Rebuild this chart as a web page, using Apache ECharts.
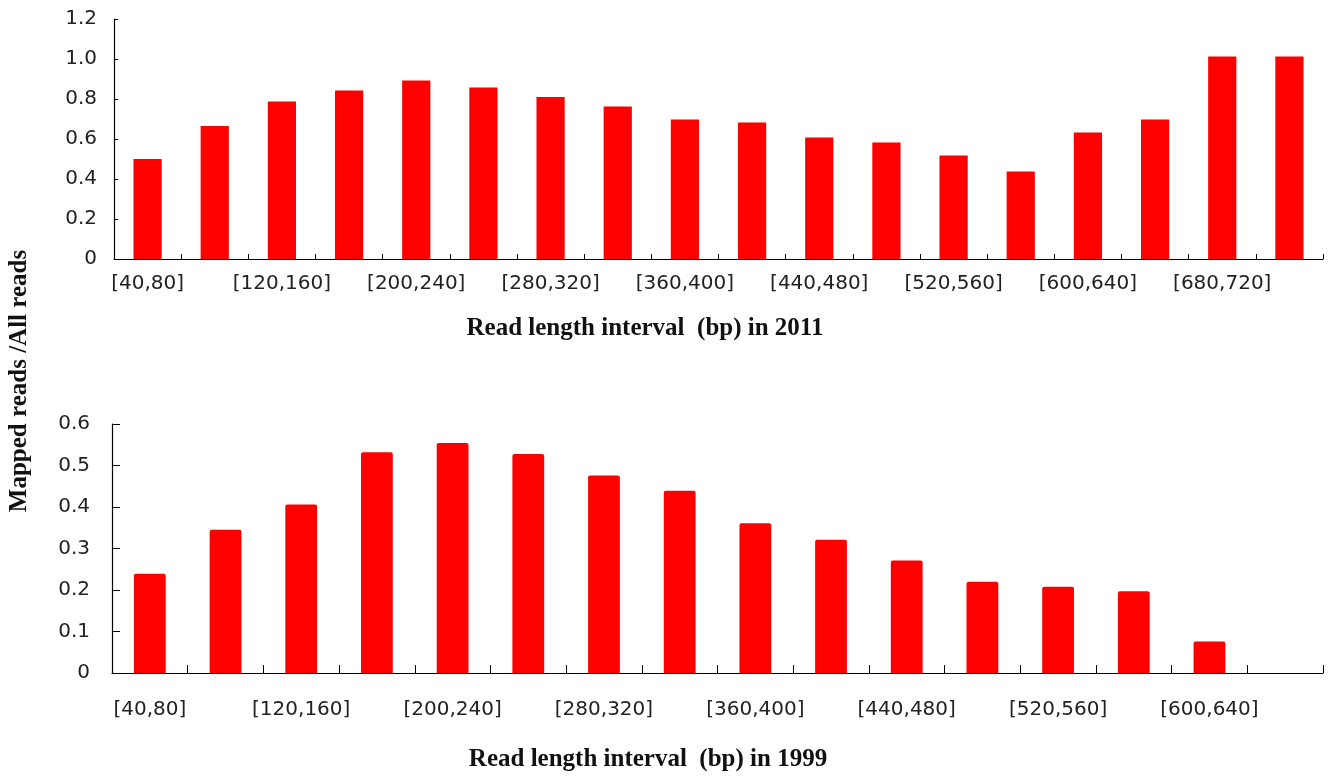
<!DOCTYPE html>
<html>
<head>
<meta charset="utf-8">
<script src="https://cdn.jsdelivr.net/npm/echarts@6/dist/echarts.min.js"></script>
<style>
  html, body { margin: 0; padding: 0; background: #fff; }
  #chart { width: 1329px; height: 777px; }
</style>
</head>
<body>
<div id="chart"></div>
<script>
// Read-length intervals (bp), 40 bp wide
const categories2011 = ['[40,80]','[80,120]','[120,160]','[160,200]','[200,240]','[240,280]','[280,320]','[320,360]','[360,400]','[400,440]','[440,480]','[480,520]','[520,560]','[560,600]','[600,640]','[640,680]','[680,720]','[720,760]'];
const categories1999 = ['[40,80]','[80,120]','[120,160]','[160,200]','[200,240]','[240,280]','[280,320]','[320,360]','[360,400]','[400,440]','[440,480]','[480,520]','[520,560]','[560,600]','[600,640]','[640,680]'];

// Ratio of mapped reads to all reads per interval
const ratio2011 = [0.50, 0.665, 0.787, 0.843, 0.892, 0.858, 0.81, 0.762, 0.698, 0.682, 0.608, 0.583, 0.518, 0.438, 0.632, 0.698, 1.012, 1.012];
const ratio1999 = [0.239, 0.345, 0.406, 0.532, 0.554, 0.528, 0.476, 0.439, 0.361, 0.321, 0.271, 0.220, 0.208, 0.197, 0.076, null];

const title2011 = 'Read length interval  (bp) in 2011';
const title1999 = 'Read length interval  (bp) in 1999';
const yTitle = 'Mapped reads /All reads';

const tickFont = { fontFamily: 'DejaVu Sans', fontSize: 20, color: '#222' };
const titleFont = 'bold 25px "Liberation Serif"';
const axisLine = { show: true, lineStyle: { color: '#000', width: 1.2 } };

function yFmt(v) { return v === 0 ? '0' : v.toFixed(1); }

const chart = echarts.init(document.getElementById('chart'), null, { renderer: 'canvas' });
chart.setOption({
  animation: false,
  backgroundColor: '#fff',
  grid: [
    { left: 114, right: 6, top: 19, height: 240 },
    { left: 112, right: 6, top: 424, height: 249 }
  ],
  xAxis: [
    {
      type: 'category', gridIndex: 0, data: categories2011,
      axisLine: axisLine,
      axisTick: { show: true, inside: true, length: 5, interval: 0, lineStyle: { color: '#000' } },
      axisLabel: Object.assign({ interval: 1, margin: 15 }, tickFont)
    },
    {
      type: 'category', gridIndex: 1, data: categories1999,
      axisLine: axisLine,
      axisTick: { show: true, inside: true, length: 8, interval: 0, lineStyle: { color: '#000' } },
      axisLabel: Object.assign({ interval: 1, margin: 27 }, tickFont)
    }
  ],
  yAxis: [
    {
      type: 'value', gridIndex: 0, min: 0, max: 1.2, interval: 0.2,
      axisLine: axisLine,
      axisTick: { show: true, inside: true, length: 4, lineStyle: { color: '#000' } },
      splitLine: { show: false },
      axisLabel: Object.assign({ margin: 17, formatter: yFmt }, tickFont)
    },
    {
      type: 'value', gridIndex: 1, min: 0, max: 0.6, interval: 0.1,
      axisLine: axisLine,
      axisTick: { show: true, inside: true, length: 8, lineStyle: { color: '#000' } },
      splitLine: { show: false },
      axisLabel: Object.assign({ margin: 22, formatter: yFmt }, tickFont)
    }
  ],
  series: [
    {
      type: 'bar', xAxisIndex: 0, yAxisIndex: 0, data: ratio2011,
      barWidth: '42%',
      itemStyle: { color: '#ff0000' }
    },
    {
      type: 'bar', xAxisIndex: 1, yAxisIndex: 1, data: ratio1999,
      barWidth: '42%',
      itemStyle: { color: '#ff0000', borderRadius: [2, 2, 0, 0] }
    }
  ],
  graphic: [
    {
      type: 'text', x: 645, y: 329,
      style: { text: title2011, font: titleFont, fill: '#111', align: 'center', verticalAlign: 'middle' }
    },
    {
      type: 'text', x: 648, y: 760,
      style: { text: title1999, font: titleFont, fill: '#111', align: 'center', verticalAlign: 'middle' }
    },
    {
      type: 'text', x: 20, y: 381, rotation: Math.PI / 2,
      style: { text: yTitle, font: titleFont, fill: '#111', align: 'center', verticalAlign: 'middle' }
    }
  ]
});
</script>
</body>
</html>
